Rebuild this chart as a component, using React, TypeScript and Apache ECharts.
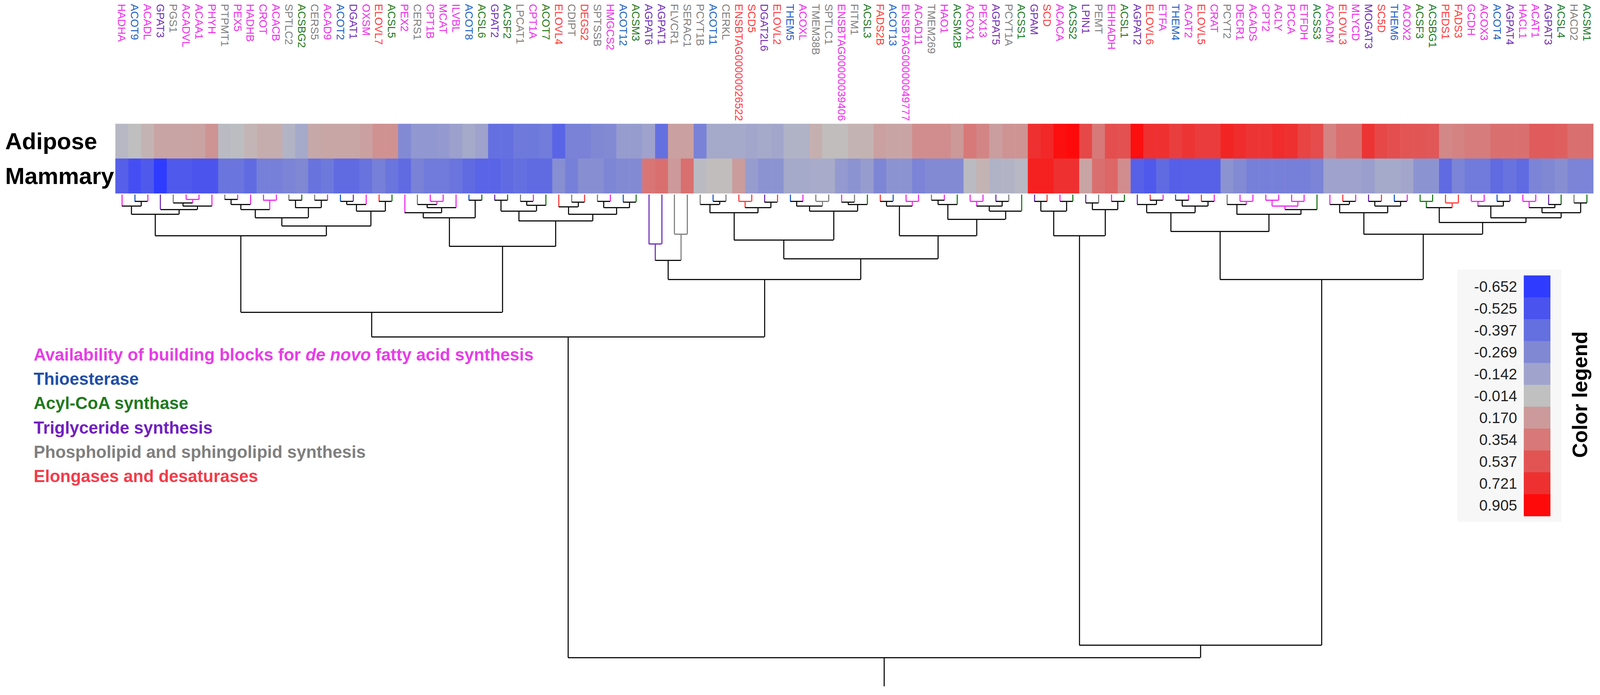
import React, { useEffect, useRef } from "react";
import * as echarts from "echarts";

// ---------------- DATA ----------------
const GENES = [
  "HADHA", "ACOT9", "ACADL", "GPAT3", "PGS1", "ACADVL", "ACAA1", "PHYH", "PTPMT1", "PEX5",
  "HADHB", "CROT", "ACACB", "SPTLC2", "ACSBG2", "CERS5", "ACAD9", "ACOT2", "DGAT1", "OXSM",
  "ELOVL7", "ACSL5", "PEX2", "CERS1", "CPT1B", "MCAT", "ILVBL", "ACOT8", "ACSL6", "GPAT2",
  "ACSF2", "LPCAT1", "CPT1A", "ACOT7", "ELOVL4", "CDIPT", "DEGS2", "SPTSSB", "HMGCS2", "ACOT12",
  "ACSM3", "AGPAT6", "AGPAT1", "FLVCR1", "SERAC1", "PCYT1B", "ACOT11", "CERKL", "ENSBTAG00000026522", "SCD5",
  "DGAT2L6", "ELOVL2", "THEM5", "ACOXL", "TMEM38B", "SPTLC1", "ENSBTAG00000039406", "FITM1", "ACSL3", "FADS2B",
  "ACOT13", "ENSBTAG00000049777", "ACAD11", "TMEM269", "HAO1", "ACSM2B", "ACOX1", "PEX13", "AGPAT5", "PCYT1A",
  "ACSS1", "GPAM", "SCD", "ACACA", "ACSS2", "LPIN1", "PEMT", "EHHADH", "ACSL1", "AGPAT2",
  "ELOVL6", "ETFA", "THEM4", "ACAT2", "ELOVL5", "CRAT", "PCYT2", "DECR1", "ACADS", "CPT2",
  "ACLY", "PCCA", "ETFDH", "ACSS3", "ACADM", "ELOVL3", "MLYCD", "MOGAT3", "SC5D", "THEM6",
  "ACOX2", "ACSF3", "ACSBG1", "PEDS1", "FADS3", "GCDH", "ACOX3", "ACOT4", "AGPAT4", "HACL1",
  "ACAT1", "AGPAT3", "ACSL4", "HACD2", "ACSM1",
];

// M building blocks, T thioesterase, A acyl-CoA synthase, P triglyceride, G phospholipid, R elongase
const GENE_CATEGORY = (
  "M T M P G M M M G M " +
  "M M M G A G M T P M " +
  "R A M G M M M T A P " +
  "A G M A R G R G M T " +
  "A P P G G G T G R R " +
  "P R T M G G M G A R " +
  "T M M G M A M M P G " +
  "A P R M A P G M A P " +
  "R M T M R M G M M M " +
  "M M M A M R M P R T " +
  "M A A R R M M T P M " +
  "M P A G A"
).split(" ");

const TISSUES = ["Adipose", "Mammary"];

const ADIPOSE = [
  -0.05, -0.014, 0.05, 0.12, 0.12, 0.12, 0.13, 0.2, -0.04, -0.03,
  0.04, 0.08, 0.08, -0.07, -0.12, 0.1, 0.11, 0.11, 0.11, 0.14,
  0.22, 0.22, -0.26, -0.2, -0.2, -0.19, -0.16, -0.12, -0.15, -0.4,
  -0.4, -0.35, -0.35, -0.33, -0.45, -0.3, -0.3, -0.27, -0.26, -0.18,
  -0.18, -0.15, -0.4, 0.14, 0.14, -0.3, -0.12, -0.12, -0.12, -0.13,
  -0.12, -0.13, -0.08, -0.08, 0.07, 0.0, 0.0, 0.05, 0.05, 0.14,
  0.12, 0.12, 0.24, 0.24, 0.24, 0.18, 0.35, 0.28, 0.15, 0.2,
  0.2, 0.72, 0.76, 0.88, 0.905, 0.6, 0.35, 0.57, 0.55, 0.88,
  0.72, 0.72, 0.65, 0.7, 0.66, 0.66, 0.78, 0.74, 0.7, 0.7,
  0.74, 0.72, 0.62, 0.58, 0.3, 0.4, 0.4, 0.7, 0.6, 0.57,
  0.53, 0.53, 0.52, 0.27, 0.3, 0.33, 0.33, 0.4, 0.4, 0.4,
  0.5, 0.5, 0.48, 0.4, 0.4,
];

const MAMMARY = [
  -0.47, -0.55, -0.5, -0.65, -0.5, -0.5, -0.52, -0.52, -0.37, -0.37,
  -0.42, -0.31, -0.31, -0.29, -0.27, -0.38, -0.35, -0.42, -0.42, -0.38,
  -0.31, -0.37, -0.42, -0.3, -0.34, -0.34, -0.37, -0.42, -0.45, -0.45,
  -0.42, -0.4, -0.42, -0.42, -0.24, -0.31, -0.24, -0.24, -0.28, -0.26,
  -0.26, 0.37, 0.4, 0.17, 0.4, -0.04, 0.0, 0.0, 0.16, -0.18,
  -0.22, -0.22, -0.12, -0.12, -0.11, -0.11, -0.19, -0.22, -0.18, -0.28,
  -0.22, -0.22, -0.29, -0.26, -0.26, -0.26, -0.04, 0.05, -0.08, -0.07,
  -0.05, 0.8, 0.8, 0.72, 0.72, 0.12, 0.4, 0.45, 0.24, -0.46,
  -0.5, -0.42, -0.47, -0.46, -0.46, -0.46, -0.22, -0.26, -0.31, -0.31,
  -0.31, -0.31, -0.31, -0.29, -0.15, -0.15, -0.15, -0.17, -0.12, -0.12,
  -0.13, -0.22, -0.22, -0.42, -0.29, -0.34, -0.34, -0.42, -0.38, -0.42,
  -0.29, -0.27, -0.24, -0.29, -0.29,
];

const LEGEND_VALUES = [-0.652, -0.525, -0.397, -0.269, -0.142, -0.014, 0.17, 0.354, 0.537, 0.721, 0.905];
const LEGEND_LABELS = ["-0.652", "-0.525", "-0.397", "-0.269", "-0.142", "-0.014", "0.170", "0.354", "0.537", "0.721", "0.905"];
const LEGEND_COLORS = ["#2f3cff", "#4a53ee", "#6470e0", "#8088d4", "#a0a4cc", "#c0c0c0", "#cc9a9a", "#d87878", "#e25454", "#ee3030", "#ff0a0a"];

const CATEGORY_LEGEND = [
  { code: "M", pre: "Availability of building blocks for ", ital: "de novo", post: " fatty acid synthesis" },
  { code: "T", pre: "Thioesterase", ital: "", post: "" },
  { code: "A", pre: "Acyl-CoA synthase", ital: "", post: "" },
  { code: "P", pre: "Triglyceride synthesis", ital: "", post: "" },
  { code: "G", pre: "Phospholipid and sphingolipid synthesis", ital: "", post: "" },
  { code: "R", pre: "Elongases and desaturases", ital: "", post: "" },
];

// Dendrogram: node = leaf index | [mergeHeight, left, right]
type Node = number | [number, Node, Node];
const CLUSTER_A: Node = [50,
  [24, [14, 0, [8, 1, 2]], [18, 3, [14, [10, 4, [6, 5, 6]], 7]]],
  [38,
    [28, [18, [12, [6, 8, 9], 10], [7, 11, 12]], [16, [7, 13, 14], [7, 15, 16]]],
    [20, [12, [8, 17, 18], 19], [8, 20, 21]]],
];
const CLUSTER_B: Node = [63,
  [28, [22, 22, [16, [12, 23, [8, 24, 25]], 26]], [7, 27, 28]],
  [32, [20, [7, 29, 30], [13, [8, 31, 32], 33]],
    [24, [15, 34, [9, 35, 36]], [16, [8, 37, 38], [9, 39, 40]]]],
];
const CLUSTER_C: Node = [80, [60, 41, 42], [48, 43, 44]];
const CLUSTER_D: Node = [78,
  [55, [22, [12, 45, [8, 46, 47]], [16, [8, 48, 49], [9, 50, 51]]],
    [20, [14, [8, 52, 53], [8, 54, 55]], [12, [9, 56, 57], 58]]],
  [50, [14, [8, 59, 60], [8, 61, 62]],
    [30, [12, [7, 63, 64], 65], [20, [14, [8, 66, 67], [8, 68, 69]], 70]]],
];
const CLUSTER_E: Node = [50, [20, [8, 71, 72], [8, 73, 74]], [18, [10, 75, 76], [8, 77, 78]]];
const CLUSTER_F: Node = [103,
  [45, [22, [12, 79, [7, 80, 81]], [14, [7, 82, 83], [8, 84, 85]]],
    [24, [12, 86, [8, 87, 88]], [18, [14, [7, 89, 90], [8, 91, 92]], 93]]],
  [48, [22, [12, 94, [8, 95, 96]], [14, [8, 97, 98], [8, 99, 100]]],
    [34, [16, [8, 101, 102], [10, 103, 104]],
      [28, [14, [8, 105, 106], [8, 107, 108]],
        [22, [16, [8, 109, 110], [12, 111, 112]], [10, 113, 114]]]]],
];
const TREE: Node = [563,
  [173, [143, CLUSTER_A, CLUSTER_B], [103, CLUSTER_C, CLUSTER_D]],
  [548, CLUSTER_E, CLUSTER_F],
];
const ROOT_STEM = 35;
const DENDRO_MAX = 600;

// ---------------- STYLE ----------------
const CAT_COLOR: Record<string, string> = {
  M: "#ee2cee", T: "#1f5fc4", A: "#1e7a1e", P: "#7030b8", G: "#808080", R: "#ff3a3a",
};
const LEGEND_TEXT_COLOR: Record<string, string> = {
  M: "#e83ce8", T: "#1f4fa8", A: "#1e7a1e", P: "#7020c0", G: "#7f7f7f", R: "#f23c4a",
};
const BLACK = "#111111";
const FONT = '"Liberation Sans", Arial, sans-serif';
const REF_W = 4324;
const REF_H = 1779;

function hexToRgb(h: string) {
  const n = parseInt(h.slice(1), 16);
  return [(n >> 16) & 255, (n >> 8) & 255, n & 255];
}
function colorAt(v: number) {
  const vs = LEGEND_VALUES;
  if (v <= vs[0]) return LEGEND_COLORS[0];
  if (v >= vs[vs.length - 1]) return LEGEND_COLORS[vs.length - 1];
  let i = 0;
  while (v > vs[i + 1]) i++;
  const t = (v - vs[i]) / (vs[i + 1] - vs[i]);
  const a = hexToRgb(LEGEND_COLORS[i]);
  const b = hexToRgb(LEGEND_COLORS[i + 1]);
  const c = a.map((x, k) => Math.round(x + (b[k] - x) * t));
  return `rgb(${c[0]},${c[1]},${c[2]})`;
}

function measure(font: string, text: string) {
  const ctx = document.createElement("canvas").getContext("2d");
  if (!ctx) return 0;
  ctx.font = font;
  return ctx.measureText(text).width;
}

// choose a (preferably narrow) font so the longest gene label fits maxLen
function pickLabelFont(maxLen: number) {
  const longest = GENES.reduce((a, b) => (b.length > a.length ? b : a), "");
  const candidates = ['"Liberation Sans Narrow"'];
  for (const fam of candidates) {
    const a = measure(`100px ${fam}, monospace`, longest);
    const b = measure(`100px monospace`, longest);
    const c = measure(`100px ${fam}, serif`, longest);
    const d = measure(`100px serif`, longest);
    if (a > 0 && Math.abs(a - b) > 1 && Math.abs(c - d) > 1 && Math.abs(a - c) < 1) {
      return { family: `${fam}, ${FONT}`, size: Math.min(36, (maxLen * 100) / a) };
    }
  }
  const w = measure(`100px ${FONT}`, longest) || 1090;
  return { family: FONT, size: Math.min(36, (maxLen * 100) / w) };
}

function buildDendrogram(tree: Node) {
  const segs: any[] = [];
  const walk = (n: Node): { x: number; h: number; color: string } => {
    if (typeof n === "number") {
      return { x: n + 0.5, h: 0, color: CAT_COLOR[GENE_CATEGORY[n]] };
    }
    const [h, l, r] = n;
    const a = walk(l);
    const b = walk(r);
    const color = a.color === b.color ? a.color : BLACK;
    segs.push({ coords: [[a.x, a.h], [a.x, h]], lineStyle: { color: a.color } });
    segs.push({ coords: [[b.x, b.h], [b.x, h]], lineStyle: { color: b.color } });
    segs.push({ coords: [[a.x, h], [b.x, h]], lineStyle: { color } });
    return { x: (a.x + b.x) / 2, h, color };
  };
  const root = walk(tree);
  segs.push({ coords: [[root.x, root.h], [root.x, root.h + ROOT_STEM]], lineStyle: { color: BLACK } });
  return segs;
}

function buildOption(sx: number, sy: number) {
  const s = Math.min(sx, sy);
  const X = (v: number) => v * sx;
  const Y = (v: number) => v * sy;
  const F = (v: number) => Math.round(v * s * 10) / 10;

  const HM_LEFT = X(312), HM_TOP = Y(317), HM_WIDTH = X(3994), HM_HEIGHT = Y(178);
  const DG_TOP = Y(498), DG_HEIGHT = Y(1263);
  const labelFont = pickLabelFont(Y(300));

  const heatData: any[] = [];
  GENES.forEach((_, i) => {
    heatData.push([i, 0, ADIPOSE[i]]);
    heatData.push([i, 1, MAMMARY[i]]);
  });
  const vmColors: string[] = [];
  const N = 160;
  const vmin = LEGEND_VALUES[0];
  const vmax = LEGEND_VALUES[LEGEND_VALUES.length - 1];
  for (let k = 0; k <= N; k++) vmColors.push(colorAt(vmin + ((vmax - vmin) * k) / N));

  const graphic: any[] = [];
  // color legend box
  const swTop = 705, swH = 56;
  graphic.push({ type: "rect", shape: { x: X(3938), y: Y(690), width: X(282), height: Y(646) }, style: { fill: "#f7f7f7" }, silent: true });
  LEGEND_COLORS.forEach((c, i) => {
    graphic.push({ type: "rect", shape: { x: X(4118), y: Y(swTop + i * swH), width: X(72), height: Y(swH + 0.5) }, style: { fill: c }, silent: true });
    graphic.push({
      type: "text", x: X(4100), y: Y(swTop + (i + 0.5) * swH), silent: true,
      style: { text: LEGEND_LABELS[i], fill: "#222222", font: `${F(41)}px ${FONT}`, align: "right", verticalAlign: "middle", textAlign: "right", textVerticalAlign: "middle" },
    });
  });
  graphic.push({
    type: "text", x: X(4270), y: Y(1010), rotation: Math.PI / 2, silent: true,
    style: { text: "Color legend", fill: "#000000", font: `bold ${F(56)}px ${FONT}`, align: "center", verticalAlign: "middle", textAlign: "center", textVerticalAlign: "middle" },
  });
  // category legend
  CATEGORY_LEGEND.forEach((row, i) => {
    const col = LEGEND_TEXT_COLOR[row.code];
    const fs = F(46);
    const text = row.ital ? `{a|${row.pre}}{i|${row.ital}}{a|${row.post}}` : `{a|${row.pre}}`;
    graphic.push({
      type: "text", x: X(91), y: Y(908 + i * 62.2), silent: true,
      style: {
        text, fill: col, font: `bold ${fs}px ${FONT}`, align: "left", verticalAlign: "middle", textAlign: "left", textVerticalAlign: "middle",
        rich: {
          a: { fill: col, color: col, font: `bold ${fs}px ${FONT}`, fontSize: fs, fontWeight: "bold", fontFamily: FONT },
          i: { fill: col, color: col, font: `italic bold ${fs}px ${FONT}`, fontSize: fs, fontWeight: "bold", fontStyle: "italic", fontFamily: FONT },
        },
      },
    });
  });

  const noBounds = { outerBoundsMode: "none", containLabel: false };

  return {
    animation: false,
    backgroundColor: "#ffffff",
    grid: [
      { left: HM_LEFT, top: HM_TOP, width: HM_WIDTH, height: HM_HEIGHT, ...noBounds },
      { left: HM_LEFT, top: DG_TOP, width: HM_WIDTH, height: DG_HEIGHT, ...noBounds },
      { left: HM_LEFT, top: Y(2), width: HM_WIDTH, height: Y(5), ...noBounds },
    ],
    xAxis: [
      {
        type: "category", gridIndex: 0, data: GENES,
        axisLine: { show: false }, axisTick: { show: false }, splitLine: { show: false },
        axisLabel: { show: false },
      },
      { type: "value", gridIndex: 1, min: 0, max: GENES.length, show: false },
      {
        type: "category", gridIndex: 2, position: "bottom", data: GENES,
        axisLine: { show: false }, axisTick: { show: false }, splitLine: { show: false },
        axisLabel: {
          interval: 0, rotate: -90, margin: Y(3),
          fontSize: Math.round(labelFont.size * 10) / 10, fontFamily: labelFont.family,
          color: (_v: any, idx: number) => CAT_COLOR[GENE_CATEGORY[idx]],
        },
      },
    ],
    yAxis: [
      {
        type: "category", gridIndex: 0, data: TISSUES, inverse: true,
        axisLine: { show: false }, axisTick: { show: false }, splitLine: { show: false },
        axisLabel: { interval: 0, align: "left", fontSize: F(63), fontWeight: "bold", fontFamily: FONT, color: "#000000", margin: X(298) },
      },
      { type: "value", gridIndex: 1, min: 0, max: DENDRO_MAX, inverse: true, show: false },
      { type: "value", gridIndex: 2, show: false },
    ],
    visualMap: {
      type: "continuous", show: false, min: vmin, max: vmax, seriesIndex: 0, dimension: 2,
      inRange: { color: vmColors },
    },
    series: [
      {
        type: "heatmap", xAxisIndex: 0, yAxisIndex: 0, data: heatData,
        itemStyle: { borderWidth: 0 }, emphasis: { disabled: true }, silent: true,
      },
      {
        type: "lines", coordinateSystem: "cartesian2d", xAxisIndex: 1, yAxisIndex: 1,
        polyline: false, silent: true,
        lineStyle: { width: Math.max(1.5, 3 * s), opacity: 1, curveness: 0 },
        data: buildDendrogram(TREE),
      },
    ],
    graphic,
  };
}

export default function App() {
  const ref = useRef<HTMLDivElement>(null);
  useEffect(() => {
    const de = document.documentElement;
    de.style.margin = "0";
    de.style.overflow = "hidden";
    document.body.style.margin = "0";
    document.body.style.overflow = "hidden";
    const el = ref.current as HTMLDivElement;
    const W = de.clientWidth || window.innerWidth || REF_W;
    const H = de.clientHeight || window.innerHeight || REF_H;
    el.style.width = W + "px";
    el.style.height = H + "px";
    const chart = echarts.init(el, null, { renderer: "svg", width: W, height: H });
    chart.setOption(buildOption(W / REF_W, H / REF_H) as any);
    return () => chart.dispose();
  }, []);
  return <div ref={ref} style={{ width: REF_W, height: REF_H, background: "#ffffff" }} />;
}
